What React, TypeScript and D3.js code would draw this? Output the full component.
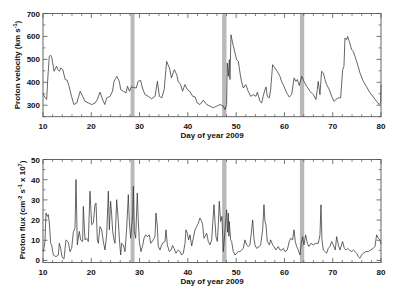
import React from "react";
import * as d3 from "d3";

const velDays = [10.0, 10.4, 10.76, 11.0, 11.3, 11.6, 11.8, 12.3, 12.8, 13.1, 13.4, 13.7, 14.1, 14.6, 15.0, 15.4, 15.9, 16.4, 17.0, 17.7, 18.2, 18.7, 19.4, 20.1, 20.8, 21.25, 21.8, 22.4, 22.8, 23.2, 23.9, 24.4, 24.7, 25.3, 25.8, 26.1, 26.6, 27.2, 27.5, 27.9, 28.3, 28.7, 29.3, 29.7, 30.2, 30.6, 31.1, 31.8, 32.5, 33.2, 33.7, 34.1, 34.6, 35.1, 35.6, 36.2, 36.6, 37.2, 37.7, 38.0, 38.5, 38.9, 39.4, 39.9, 40.4, 41.0, 41.5, 41.95, 42.5, 43.2, 43.9, 44.58, 45.27, 45.96, 46.65, 47.34, 47.69, 48.03, 48.17, 48.38, 48.59, 48.72, 48.93, 49.28, 49.76, 50.1, 50.45, 50.8, 51.1, 51.5, 52.0, 52.5, 53.0, 53.55, 54.1, 54.4, 54.93, 55.3, 55.6, 55.97, 56.2, 56.45, 56.87, 57.15, 57.56, 58.0, 58.5, 59.08, 59.4, 59.9, 60.46, 61.0, 61.5, 62.0, 62.4, 62.67, 63.08, 63.57, 64.05, 64.6, 65.29, 65.98, 66.53, 66.8, 67.0, 67.36, 67.7, 68.05, 68.4, 68.74, 69.3, 69.78, 70.26, 70.67, 71.16, 71.64, 72.06, 72.33, 72.54, 72.89, 73.09, 73.44, 73.92, 74.27, 74.6, 74.96, 75.65, 76.34, 77.03, 77.72, 78.4, 79.1, 79.65, 79.93, 80.0];
const velValues = [350, 335, 325, 420, 513, 518, 510, 448, 470, 455, 448, 463, 455, 412, 409, 383, 339, 303, 310, 361, 339, 317, 310, 303, 310, 325, 357, 322, 303, 332, 339, 361, 404, 426, 404, 368, 361, 354, 383, 361, 380, 378, 375, 404, 409, 375, 347, 339, 328, 339, 404, 339, 332, 368, 491, 462, 419, 455, 433, 404, 390, 361, 390, 368, 361, 339, 336, 310, 303, 322, 303, 296, 289, 296, 303, 296, 281, 303, 484, 426, 499, 412, 607, 571, 528, 499, 491, 441, 404, 375, 390, 361, 339, 346, 339, 357, 317, 310, 339, 368, 380, 339, 332, 368, 477, 463, 448, 426, 404, 383, 354, 336, 346, 419, 404, 412, 386, 426, 404, 383, 361, 346, 325, 368, 404, 346, 448, 441, 412, 390, 368, 339, 317, 325, 332, 332, 455, 470, 593, 586, 600, 578, 542, 535, 513, 491, 441, 404, 380, 354, 336, 317, 303, 310, 390];

const fluxDays = [10.0, 10.07, 10.41, 10.62, 10.9, 11.1, 11.31, 11.59, 11.79, 12.14, 12.69, 13.18, 13.38, 13.66, 13.93, 14.35, 14.76, 15.25, 15.59, 15.94, 16.28, 16.63, 16.83, 17.11, 17.52, 17.8, 18.21, 18.35, 18.7, 19.04, 19.39, 19.73, 20.08, 20.42, 20.77, 20.98, 21.25, 21.46, 21.8, 22.15, 22.49, 22.84, 23.18, 23.53, 23.74, 24.0, 24.22, 24.43, 24.7, 24.91, 25.26, 25.6, 25.81, 26.08, 26.29, 26.64, 26.98, 27.33, 27.67, 27.88, 28.15, 28.36, 28.57, 28.71, 28.91, 29.19, 29.53, 29.74, 29.95, 30.29, 30.64, 30.92, 31.26, 31.6, 32.02, 32.3, 32.71, 33.19, 33.4, 33.68, 33.88, 34.23, 34.57, 34.92, 35.26, 35.47, 35.75, 36.16, 36.51, 36.85, 37.13, 37.54, 38.02, 38.37, 38.71, 39.06, 39.41, 39.61, 39.89, 40.16, 40.44, 40.79, 41.13, 41.48, 41.82, 42.17, 42.51, 42.86, 43.06, 43.34, 43.55, 43.89, 44.24, 44.58, 44.93, 45.41, 45.82, 46.1, 46.31, 46.51, 46.79, 47.06, 47.34, 48.03, 48.2, 48.38, 48.5, 48.58, 48.86, 49.07, 49.41, 49.76, 50.1, 50.45, 50.79, 51.14, 51.48, 51.83, 52.17, 52.52, 52.86, 53.21, 53.42, 53.69, 53.9, 54.24, 54.8, 55.07, 55.49, 55.76, 55.97, 56.18, 56.45, 56.87, 57.14, 57.56, 57.83, 58.25, 58.73, 59.08, 59.42, 59.77, 60.11, 60.59, 61.01, 61.28, 61.7, 61.97, 62.25, 62.53, 62.87, 63.22, 63.49, 63.77, 64.05, 64.39, 64.74, 65.08, 65.5, 65.98, 66.53, 67.01, 67.36, 67.57, 67.77, 68.05, 68.39, 68.74, 69.08, 69.43, 69.78, 70.12, 70.53, 70.81, 71.16, 71.5, 72.05, 72.4, 72.74, 73.09, 73.43, 73.92, 74.26, 74.61, 74.95, 75.3, 75.64, 75.99, 76.33, 76.88, 77.37, 77.85, 78.4, 78.75, 79.09, 79.44, 79.78, 80.0];
const fluxValues = [5, 4.4, 9.4, 23.5, 21.8, 22.7, 18.5, 8.5, 7.7, 2.7, 1.9, 2.7, 8.5, 6.0, 1.8, 0.8, 10.2, 9.0, 4.4, 6.0, 14.0, 16, 40.1, 7.7, 14.4, 10.2, 9.4, 26.8, 10.2, 11.0, 9.4, 34.3, 17.7, 18.5, 27.6, 28.4, 10.2, 8.5, 16.8, 15.2, 9.4, 5.2, 12.7, 34.3, 15.2, 29.3, 22.7, 14.4, 10.2, 8.5, 30.1, 19.3, 11.0, 2.7, 8.5, 7.7, 4.4, 16.0, 32.6, 19.3, 11.0, 16.8, 22.7, 36.7, 14.4, 11.0, 33.4, 19.3, 9.4, 4.4, 7.4, 11.0, 12.7, 11.8, 12.7, 8.5, 9.7, 11.8, 23.5, 16.8, 6.9, 5.2, 7.7, 9.0, 9.4, 15.2, 7.7, 4.4, 5.2, 7.4, 6.0, 3.6, 5.2, 4.4, 2.7, 3.6, 8.5, 15.2, 13.5, 10.2, 12.7, 7.2, 11.0, 15.2, 16.8, 18.5, 21.0, 19.3, 17.7, 11.0, 11.8, 13.5, 9.4, 7.7, 10.2, 27.6, 11.8, 9.4, 17.7, 29.3, 19.3, 21.8, 4.4, 25.1, 14, 23.5, 12, 19.3, 10.2, 9.4, 4.4, 2.7, 3.6, 4.4, 4.4, 5.2, 6.0, 10.2, 7.7, 6.9, 7.7, 15.2, 20.1, 11.0, 7.7, 6.0, 6.9, 7.7, 15.2, 27.6, 19.3, 17.7, 9.4, 7.7, 10.2, 7.7, 6.9, 5.2, 6.9, 5.2, 5.2, 6.0, 4.4, 5.2, 9.4, 11.0, 10.2, 15.2, 9.4, 6.9, 5.2, 2.7, 8.5, 11.8, 7.7, 12.7, 8.5, 6.9, 8.5, 7.7, 8.5, 8.5, 12.7, 27.6, 10.2, 5.2, 4.4, 3.6, 6.0, 6.9, 9.4, 7.7, 5.2, 11.8, 7.7, 5.2, 9.4, 6.0, 5.2, 6.0, 5.2, 4.4, 5.2, 4.4, 3.6, 1.9, 1.1, 2.7, 3.6, 4.4, 4.4, 5.2, 6.0, 6.9, 12.7, 11.0, 10.2, 8];

const bandStarts = [28.15, 47.1, 63.2];
const bandEnds = [28.95, 48.0, 64.1];

const xMajorTicks = [10, 20, 30, 40, 50, 60, 70, 80];
const velMajorTicks = [300, 400, 500, 600, 700];
const fluxMajorTicks = [0, 10, 20, 30, 40, 50];

const FONT = "'Liberation Sans', Arial, sans-serif";

type PanelProps = {
  top: number;
  bottom: number;
  yDomain: [number, number];
  yMajor: number[];
  yMinorStep: number;
  days: number[];
  values: number[];
  title: React.ReactNode;
};

const X0 = 43;
const X1 = 381;
const x = d3.scaleLinear().domain([10, 80]).range([X0, X1]);

function Panel({ top, bottom, yDomain, yMajor, yMinorStep, days, values, title }: PanelProps) {
  const y = d3.scaleLinear().domain(yDomain).range([bottom, top]);
  const line = d3
    .line<number>()
    .x((_, i) => x(days[i]))
    .y((v) => y(Math.max(yDomain[0], Math.min(yDomain[1], v))));
  const xMinor = d3.range(10, 80.001, 2).filter((d) => !xMajorTicks.includes(d));
  const yMinor = d3
    .range(Math.ceil(yDomain[0] / yMinorStep) * yMinorStep, yDomain[1] + 0.001, yMinorStep)
    .filter((d) => !yMajor.includes(d));
  const tickColor = "#555";
  const M = 4.5;
  const m = 2.5;
  return (
    <g>
      {bandStarts.map((s, i) => (
        <rect key={i} x={x(s)} y={top} width={x(bandEnds[i]) - x(s)} height={bottom - top} fill="#b9b9b9" />
      ))}
      <path d={line(values) || ""} fill="none" stroke="#333" strokeWidth={0.75} strokeLinejoin="round" />
      <rect x={X0} y={top} width={X1 - X0} height={bottom - top} fill="none" stroke={tickColor} strokeWidth={0.9} />
      {xMajorTicks.map((d) => (
        <g key={"xm" + d}>
          <line x1={x(d)} x2={x(d)} y1={bottom} y2={bottom - M} stroke={tickColor} strokeWidth={0.8} />
          <line x1={x(d)} x2={x(d)} y1={top} y2={top + M} stroke={tickColor} strokeWidth={0.8} />
          <text x={x(d)} y={bottom + 12.5} textAnchor="middle" fontFamily={FONT} fontWeight="bold" fontSize={8} fill="#111">
            {d}
          </text>
        </g>
      ))}
      {xMinor.map((d) => (
        <g key={"xn" + d}>
          <line x1={x(d)} x2={x(d)} y1={bottom} y2={bottom - m} stroke={tickColor} strokeWidth={0.7} />
          <line x1={x(d)} x2={x(d)} y1={top} y2={top + m} stroke={tickColor} strokeWidth={0.7} />
        </g>
      ))}
      {yMajor.map((d) => (
        <g key={"ym" + d}>
          <line x1={X0} x2={X0 + M} y1={y(d)} y2={y(d)} stroke={tickColor} strokeWidth={0.8} />
          <line x1={X1} x2={X1 - M} y1={y(d)} y2={y(d)} stroke={tickColor} strokeWidth={0.8} />
          <text x={X0 - 3} y={y(d) + 3} textAnchor="end" fontFamily={FONT} fontWeight="bold" fontSize={8} fill="#111">
            {d}
          </text>
        </g>
      ))}
      {yMinor.map((d) => (
        <g key={"yn" + d}>
          <line x1={X0} x2={X0 + m} y1={y(d)} y2={y(d)} stroke={tickColor} strokeWidth={0.7} />
          <line x1={X1} x2={X1 - m} y1={y(d)} y2={y(d)} stroke={tickColor} strokeWidth={0.7} />
        </g>
      ))}
      <text x={(X0 + X1) / 2} y={bottom + 21} textAnchor="middle" fontFamily={FONT} fontWeight="bold" fontSize={8} fill="#111">
        Day of year 2009
      </text>
      {title}
    </g>
  );
}

export default function App() {
  const sup = { fontSize: 5.5 };
  return (
    <svg width={395} height={291} style={{ display: "block", position: "absolute", left: 0, top: 0 }}>
      <rect width={395} height={291} fill="#fff" />
      <Panel
        top={13.5}
        bottom={116.7}
        yDomain={[250, 700]}
        yMajor={velMajorTicks}
        yMinorStep={50}
        days={velDays}
        values={velValues}
        title={
          <text transform={`translate(20,65) rotate(-90)`} textAnchor="middle" fontFamily={FONT} fontWeight="bold" fontSize={8} fill="#111">
            Proton velocity (km s
            <tspan dy={-3} style={sup}>-1</tspan>
            <tspan dy={3}>)</tspan>
          </text>
        }
      />
      <Panel
        top={159.5}
        bottom={262.5}
        yDomain={[-1, 50]}
        yMajor={fluxMajorTicks}
        yMinorStep={5}
        days={fluxDays}
        values={fluxValues}
        title={
          <text transform={`translate(25,210) rotate(-90)`} textAnchor="middle" fontFamily={FONT} fontWeight="bold" fontSize={8} fill="#111">
            Proton flux (cm
            <tspan dy={-3} style={sup}>-2</tspan>
            <tspan dy={3}> s</tspan>
            <tspan dy={-3} style={sup}>-1</tspan>
            <tspan dy={3}> x 10</tspan>
            <tspan dy={-3} style={sup}>7</tspan>
            <tspan dy={3}>)</tspan>
          </text>
        }
      />
    </svg>
  );
}
